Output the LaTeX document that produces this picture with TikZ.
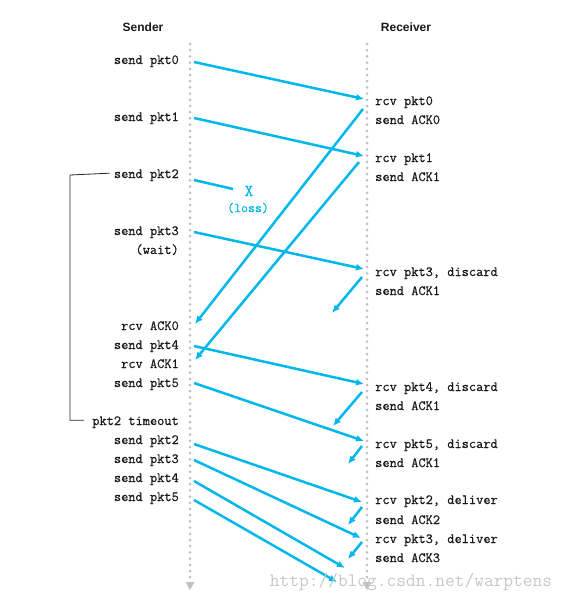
\documentclass[tikz,border=0pt]{standalone}
\usepackage{fontspec}
\setsansfont{Liberation Sans}
\newfontfamily\pktfont{Latin Modern Mono}[FakeBold=0.6]
\usetikzlibrary{arrows.meta}

\definecolor{pktblue}{RGB}{0,183,235}
\definecolor{lifegray}{RGB}{192,192,192}

\tikzset{
  lbl/.style={inner sep=0pt,text=black!90,font=\pktfont\bfseries\fontsize{14}{16}\selectfont},
  sndlbl/.style={lbl,anchor=base east},
  rcvlbl/.style={lbl,anchor=base west},
  head/.style={text=black!90,font=\sffamily\bfseries\fontsize{12}{14}\selectfont},
  msg/.style={pktblue,line width=2.5pt,-{Latex[length=8pt,width=7pt]}},
  lifeline/.style={lifegray,line width=3pt,line cap=round,dash pattern=on 0pt off 6.2pt},
}

\begin{document}
\begin{tikzpicture}[x=1pt,y=-1pt]
\useasboundingbox (0,0) rectangle (567,605);
% headers
\node[head] (sender) at (143,27) {Sender};
\node[head] (receiver) at (406,27) {Receiver};
% lifelines
\coordinate (sndtop) at (190,44);
\coordinate (sndbot) at (190,580);
\coordinate (rcvtop) at (367,44);
\coordinate (rcvbot) at (367,580);
\draw[lifeline] (sndtop) -- (sndbot);
\draw[lifeline] (rcvtop) -- (rcvbot);
\fill[lifegray] (185.5,582) -- (194.5,582) -- (190,590) -- cycle;
\fill[lifegray] (362.5,582) -- (371.5,582) -- (367,590) -- cycle;

% sender side
\node[sndlbl] (sp0) at (179,64) {send pkt0};
\node[sndlbl] (sp1) at (179,121) {send pkt1};
\node[sndlbl] (sp2) at (179,178) {send pkt2};
\node[sndlbl] (sp3) at (179,235) {send pkt3};
\node[sndlbl] (wait) at (179,254) {(wait)};
\node[sndlbl] (sa0) at (179,330) {rcv ACK0};
\node[sndlbl] (sp4) at (179,349) {send pkt4};
\node[sndlbl] (sa1) at (179,368) {rcv ACK1};
\node[sndlbl] (sp5) at (179,387) {send pkt5};
\node[sndlbl] (tout) at (179,425) {pkt2 timeout};
\node[sndlbl] (rsp2) at (179,444) {send pkt2};
\node[sndlbl] (rsp3) at (179,463) {send pkt3};
\node[sndlbl] (rsp4) at (179,482) {send pkt4};
\node[sndlbl] (rsp5) at (179,501) {send pkt5};

% receiver side
\node[rcvlbl] (rp0) at (375,105) {rcv pkt0};
\node[rcvlbl] (ra0) at (375,124) {send ACK0};
\node[rcvlbl] (rp1) at (375,162) {rcv pkt1};
\node[rcvlbl] (ra1) at (375,181) {send ACK1};
\node[rcvlbl] (rp3) at (375,276) {rcv pkt3, discard};
\node[rcvlbl] (ra1b) at (375,295) {send ACK1};
\node[rcvlbl] (rp4) at (375,391) {rcv pkt4, discard};
\node[rcvlbl] (ra1c) at (375,410) {send ACK1};
\node[rcvlbl] (rp5) at (375,448) {rcv pkt5, discard};
\node[rcvlbl] (ra1d) at (375,467) {send ACK1};
\node[rcvlbl] (rp2d) at (375,504) {rcv pkt2, deliver};
\node[rcvlbl] (ra2) at (375,524) {send ACK2};
\node[rcvlbl] (rp3d) at (375,543) {rcv pkt3, deliver};
\node[rcvlbl] (ra3) at (375,562) {send ACK3};

% timeout bracket
\draw[black!85,line width=0.8pt] ([xshift=-4pt,yshift=2pt]sp2.west) -- (70,175) |- ([xshift=-8pt,yshift=2pt]tout.west);

% loss
\node[inner sep=0pt,text=pktblue,font=\pktfont\bfseries\fontsize{17}{18}\selectfont] (lossx) at (249,191) {X};
\node[inner sep=0pt,text=pktblue,font=\pktfont\fontsize{13.5}{15}\selectfont] (losslbl) at (248,208) {(loss)};

% message end points
\coordinate (s0) at (194,62);   \coordinate (r0) at (364,99);
\coordinate (s1) at (194,118);  \coordinate (r1) at (364,156);
\coordinate (s2) at (194,180);  \coordinate (s2lost) at (233,189);
\coordinate (s3) at (194,232);  \coordinate (r3) at (364,269);
\coordinate (a0s) at (363,109); \coordinate (a0r) at (195,324);
\coordinate (a1s) at (359,162); \coordinate (a1r) at (195,360);
\coordinate (b1s) at (362,277); \coordinate (b1e) at (332,313);
\coordinate (s4) at (194,346);  \coordinate (r4) at (364,384);
\coordinate (s5) at (194,383);  \coordinate (r5) at (364,441);
\coordinate (c1s) at (362,392); \coordinate (c1e) at (333,426);
\coordinate (d1s) at (362,446); \coordinate (d1e) at (348,464);
\coordinate (t2) at (194,444);  \coordinate (u2) at (362,502);
\coordinate (e2s) at (362,507); \coordinate (e2e) at (348,525);
\coordinate (t3) at (194,460);  \coordinate (u3) at (361,538);
\coordinate (e3s) at (362,542); \coordinate (e3e) at (348,559);
\coordinate (t4) at (194,481);  \coordinate (u4) at (345,568);
\coordinate (t5) at (194,500);  \coordinate (u5) at (337,582);

% messages
\draw[msg] (s0) -- (r0);
\draw[msg] (s1) -- (r1);
\draw[pktblue,line width=2.5pt] (s2) -- (s2lost);
\draw[msg] (s3) -- (r3);
\draw[msg] (a0s) -- (a0r);
\draw[msg] (a1s) -- (a1r);
\draw[msg] (b1s) -- (b1e);
\draw[msg] (s4) -- (r4);
\draw[msg] (s5) -- (r5);
\draw[msg] (c1s) -- (c1e);
\draw[msg] (d1s) -- (d1e);
\draw[msg] (t2) -- (u2);
\draw[msg] (e2s) -- (e2e);
\draw[msg] (t3) -- (u3);
\draw[msg] (e3s) -- (e3e);
\draw[msg] (t4) -- (u4);
\draw[msg] (t5) -- (u5);

% watermark
\node[inner sep=0pt,text=black!22,font=\ttfamily\fontsize{18.9}{20}\selectfont] (mark) at (411,582) {http://blog.csdn.net/warptens};
\end{tikzpicture}
\end{document}
